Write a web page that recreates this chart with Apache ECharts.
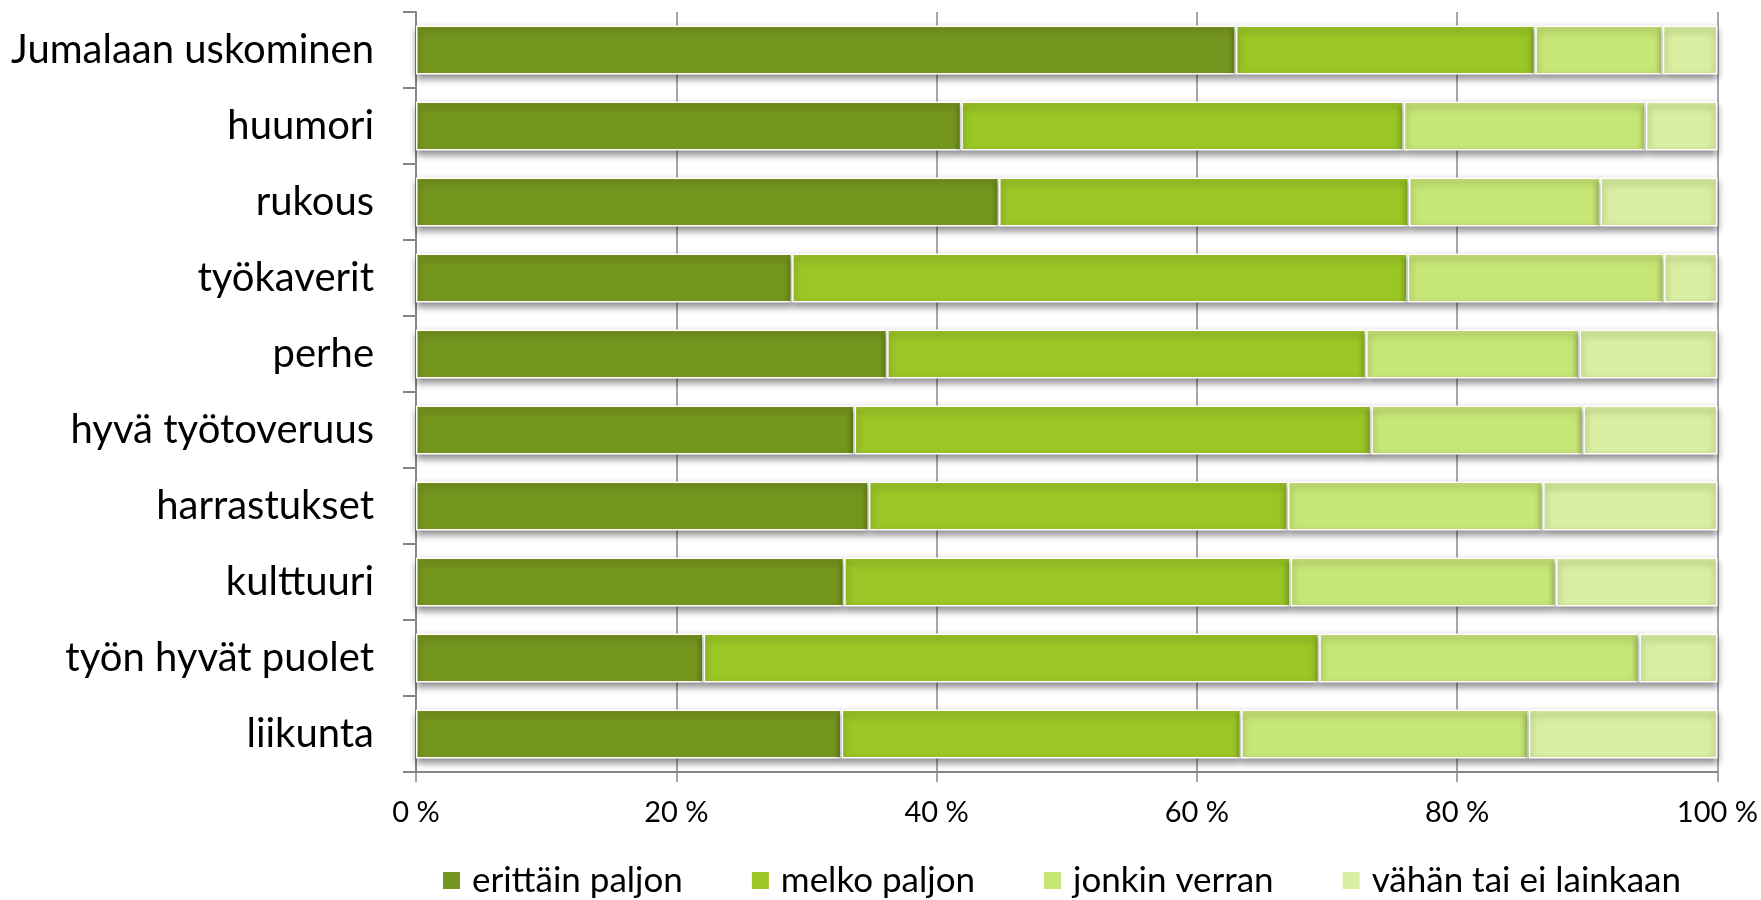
<!DOCTYPE html>
<html>
<head>
<meta charset="utf-8">
<script src="https://cdn.jsdelivr.net/npm/echarts@6/dist/echarts.min.js"></script>
<style>
html,body{margin:0;padding:0;background:#fff;}
#chart{width:1761px;height:900px;}
</style>
</head>
<body>
<div id="chart"></div>
<script>
var categories = ["Jumalaan uskominen","huumori","rukous","työkaverit","perhe","hyvä työtoveruus","harrastukset","kulttuuri","työn hyvät puolet","liikunta"];
var seriesNames = ["erittäin paljon","melko paljon","jonkin verran","vähän tai ei lainkaan"];
var erittainPaljon = [63.0, 41.9, 44.8, 28.9, 36.2, 33.7, 34.8, 32.9, 22.1, 32.7];
var melkoPaljon    = [23.0, 34.0, 31.5, 47.3, 36.8, 39.7, 32.2, 34.3, 47.3, 30.7];
var jonkinVerran   = [ 9.8, 18.6, 14.7, 19.7, 16.4, 16.3, 19.6, 20.4, 24.6, 22.1];
var vahanTaiEi     = [ 4.2,  5.5,  9.0,  4.1, 10.6, 10.3, 13.4, 12.4,  6.0, 14.5];
var xTicks = [0, 20, 40, 60, 80, 100];
var colors = ["#75961e", "#9ac626", "#c6e675", "#d9eea0"];

var seriesData = [erittainPaljon, melkoPaljon, jonkinVerran, vahanTaiEi];
var FONT = "Lato, 'Noto Sans', sans-serif";

var chart = echarts.init(document.getElementById('chart'), null, {renderer: 'canvas'});
var option = {
  animation: false,
  backgroundColor: '#ffffff',
  color: colors,
  grid: {left: 416, right: 43, top: 12, bottom: 128, containLabel: false},
  legend: {
    data: seriesNames,
    left: 436,
    top: 858,
    itemWidth: 19,
    itemHeight: 19,
    itemGap: 67,
    icon: 'rect',
    textStyle: {fontFamily: FONT, fontSize: 35, color: '#000', padding: [0, 0, 0, 6]}
  },
  xAxis: {
    type: 'value',
    min: xTicks[0],
    max: xTicks[xTicks.length - 1],
    interval: xTicks[1] - xTicks[0],
    axisLine: {show: true, lineStyle: {color: '#868686', width: 2}},
    axisTick: {show: true, length: 10, lineStyle: {color: '#868686', width: 1.5}},
    splitLine: {show: true, lineStyle: {color: '#8a8a8a', width: 1.5}},
    axisLabel: {
      fontFamily: FONT, fontSize: 29, color: '#000', margin: 26,
      formatter: function (v) { return v + ' %'; }
    }
  },
  yAxis: {
    type: 'category',
    data: categories,
    inverse: true,
    axisLine: {show: true, lineStyle: {color: '#868686', width: 2}},
    axisTick: {show: true, length: 13, lineStyle: {color: '#868686', width: 2}},
    splitLine: {show: false},
    axisLabel: {fontFamily: FONT, fontSize: 40, color: '#000', margin: 42}
  },
  series: seriesNames.map(function (name, i) {
    return {
      name: name,
      type: 'bar',
      stack: 'total',
      barWidth: 49,
      data: seriesData[i],
      itemStyle: {
        color: colors[i],
        borderColor: '#ffffff',
        borderWidth: 1.5,
        shadowColor: 'rgba(0,0,0,0.45)',
        shadowBlur: 7,
        shadowOffsetY: 4
      }
    };
  })
};
chart.setOption(option);
</script>
</body>
</html>
